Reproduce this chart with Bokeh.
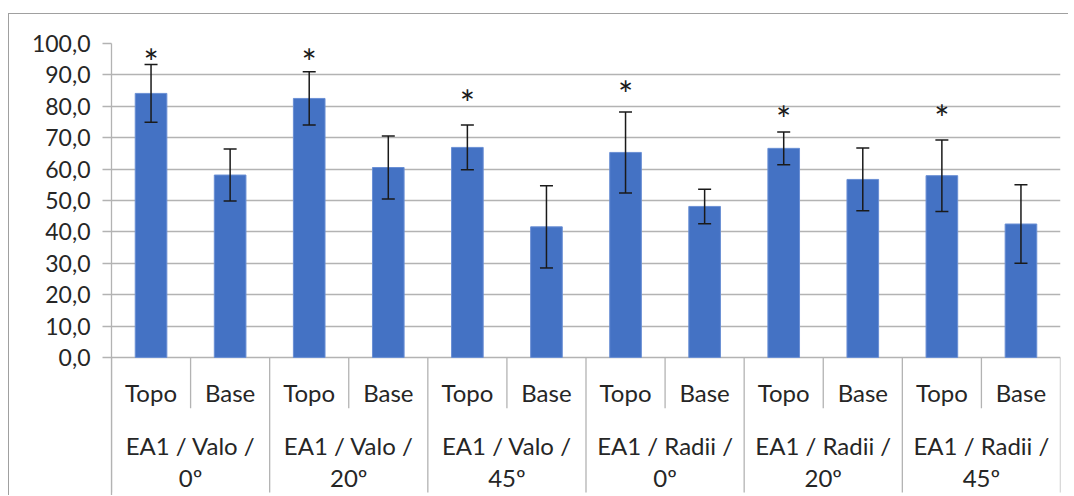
from bokeh.plotting import figure
from bokeh.models import (FactorRange, Range1d, ColumnDataSource, Whisker,
                          FixedTicker, TeeHead)
from bokeh.core.properties import value
from bokeh.embed import file_html
from bokeh.resources import INLINE

# ---- data ----
groups = ["EA1 / Valo / 0º", "EA1 / Valo / 20º", "EA1 / Valo / 45º",
          "EA1 / Radii / 0º", "EA1 / Radii / 20º", "EA1 / Radii / 45º"]
subs = ["Topo", "Base"]
means = [84.1, 58.1, 82.5, 60.5, 66.9, 41.6, 65.3, 48.1, 66.6, 56.7, 57.9, 42.5]
errs = [9.2, 8.3, 8.5, 10.0, 7.1, 13.1, 12.9, 5.5, 5.2, 10.0, 11.4, 12.5]
star_y = [96.7, 96.6, 83.7, 86.5, 78.5, 78.8]   # asterisks above each "Topo" bar
y_ticks = [0, 10, 20, 30, 40, 50, 60, 70, 80, 90, 100]
y_tick_labels = ["0,0", "10,0", "20,0", "30,0", "40,0", "50,0",
                 "60,0", "70,0", "80,0", "90,0", "100,0"]

FONT = "Lato"
TXT = "#262626"
GRID = "#b3b3b3"
BAR = "#4472C4"

factors = [(g, s) for g in groups for s in subs]
src = ColumnDataSource(dict(
    x=factors, top=means,
    upper=[m + e for m, e in zip(means, errs)],
    lower=[m - e for m, e in zip(means, errs)],
))

YMIN = -44.3
p = figure(width=1060, height=482, output_backend="svg", toolbar_location=None,
           x_range=FactorRange(*factors, range_padding=0, group_padding=0,
                               factor_padding=0),
           y_range=Range1d(YMIN, 100), x_axis_location=None,
           min_border_left=102, min_border_right=9, min_border_top=29,
           min_border_bottom=0)
p.margin = (13, 0, 0, 8)
p.styles = {"border-top": "1px solid #a0a0a0", "border-left": "1px solid #a0a0a0"}
p.outline_line_color = None
p.xgrid.grid_line_color = None
p.ygrid.ticker = FixedTicker(ticks=y_ticks)
p.ygrid.grid_line_color = GRID
p.ygrid.grid_line_width = 1.3

ax = p.yaxis[0]
ax.ticker = FixedTicker(ticks=y_ticks)
ax.major_label_overrides = {t: l for t, l in zip(y_ticks, y_tick_labels)}
ax.major_label_text_font = FONT
ax.major_label_text_font_size = "23px"
ax.major_label_text_color = TXT
ax.major_tick_out = 9
ax.major_tick_in = 0
ax.minor_tick_line_color = None
ax.major_tick_line_color = GRID
ax.major_tick_line_width = 1.3
ax.axis_line_color = GRID
ax.axis_line_width = 1.3
ax.major_label_standoff = 12

p.vbar(x="x", top="top", width=0.4, source=src, fill_color=BAR,
       line_color="#6a8fd4", line_width=1)

w = Whisker(base="x", upper="upper", lower="lower", source=src,
            line_color="#1a1a1a", line_width=1.5, level="overlay",
            upper_head=TeeHead(size=13, line_color="#1a1a1a", line_width=1.5),
            lower_head=TeeHead(size=13, line_color="#1a1a1a", line_width=1.5))
p.add_layout(w)

# asterisks
p.text(x=[(g, "Topo") for g in groups], y=star_y, text=["*"] * len(groups),
       text_font=value(FONT), text_font_size="36px", text_color="#1a1a1a",
       text_align="center", text_baseline="middle", y_offset=8)

# category-axis area (below zero)
CAT_FS = "24px"
sub_y, line1_y, line2_y = -11.1, -28.0, -38.1
p.text(x=factors, y=[sub_y] * len(factors), text=[f[1] for f in factors],
       text_font=value(FONT), text_font_size=CAT_FS, text_color=TXT,
       text_align="center", text_baseline="middle")
l1 = [g.rsplit(" / ", 1)[0] + " /" for g in groups]
l2 = [g.rsplit(" / ", 1)[1] for g in groups]
p.text(x=groups, y=[line1_y] * len(groups), text=l1,
       text_font=value(FONT), text_font_size=CAT_FS, text_color=TXT,
       text_align="center", text_baseline="middle")
p.text(x=groups, y=[line2_y] * len(groups), text=l2,
       text_font=value(FONT), text_font_size=CAT_FS, text_color=TXT,
       text_align="center", text_baseline="middle")

# dividers
gx = [(g, "Topo", -0.5) for g in groups] + [(groups[-1], "Base", 0.5)]
p.segment(x0=gx, x1=gx, y0=[0] * len(gx), y1=[-43.0] * len(gx),
          line_color=GRID, line_width=1.3)
sx = [(g, "Base", -0.5) for g in groups]
p.segment(x0=sx, x1=sx, y0=[0] * len(sx), y1=[-16.2] * len(sx),
          line_color=GRID, line_width=1.3)

open("out.html", "w").write(file_html(p, INLINE))
